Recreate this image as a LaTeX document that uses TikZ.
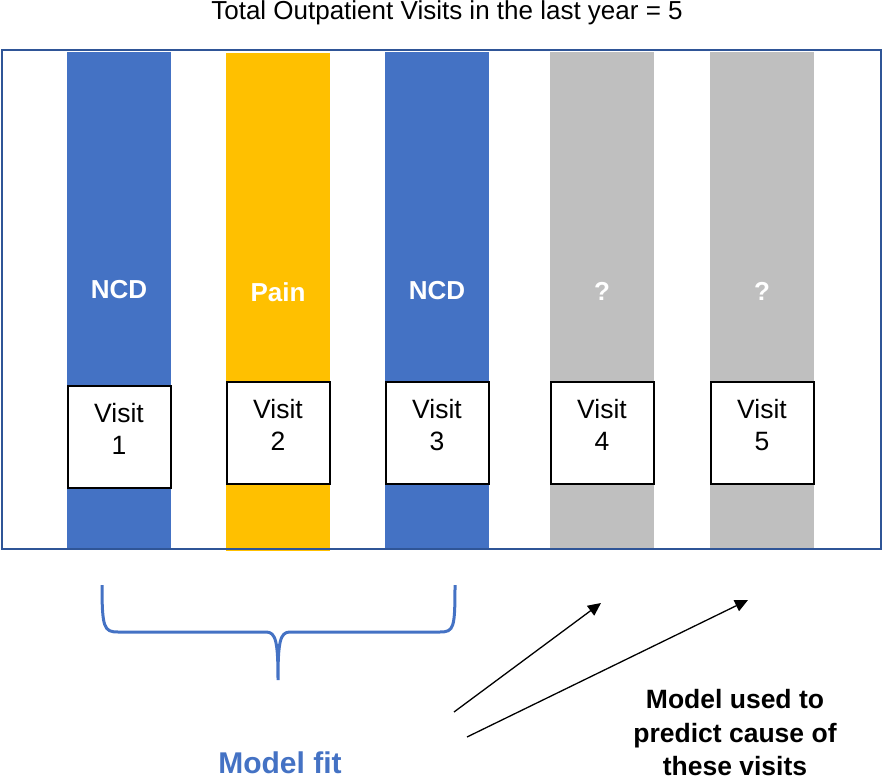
\documentclass[tikz,border=0pt]{standalone}
\usepackage{fontspec}
\setmainfont{Liberation Sans}
\usepackage{tikz}
\usetikzlibrary{arrows.meta,calc,positioning}
\definecolor{VisitBlue}{HTML}{4472C4}
\definecolor{VisitGold}{HTML}{FFC000}
\definecolor{VisitGrey}{HTML}{BFBFBF}
\definecolor{FrameBlue}{HTML}{2F5597}
\tikzset{
  >={Triangle[length=13pt,width=12pt]},
  bar/.style={minimum width=104pt,minimum height=498pt,inner sep=0pt,draw=none},
  bluebar/.style={bar,fill=VisitBlue},
  goldbar/.style={bar,fill=VisitGold},
  greybar/.style={bar,fill=VisitGrey},
  barlabel/.style={text=white,font=\fontsize{26}{30}\selectfont\bfseries},
  visitbox/.style={draw=black,line width=2pt,fill=white,minimum width=103pt,
    minimum height=102pt,inner sep=0pt},
  visittext/.style={align=center,font=\fontsize{26.5}{32}\selectfont},
  predictflow/.style={->,line width=1.3pt,draw=black},
  bracket/.style={draw=VisitBlue,line width=3pt}
}

\begin{document}
\begin{tikzpicture}[x=1pt,y=-1pt]
    \useasboundingbox (0,0) rectangle (883,783);
    \node[font=\fontsize{26}{30}\selectfont] (title) at (447,13) {Total Outpatient Visits in the last year = 5};
    % the five visits
    \node[bluebar] (bar1) at (119,301) {};
    \node[goldbar] (bar2) at (278,302) {};
    \node[bluebar] (bar3) at (437,301) {};
    \node[greybar] (bar4) at (602,301) {};
    \node[greybar] (bar5) at (762,301) {};
    \node[barlabel] (cause1) at (119,290) {NCD};
    \node[barlabel] (cause2) at (278,292) {Pain};
    \node[barlabel] (cause3) at (437,291) {NCD};
    \node[barlabel] (cause4) at (602,291) {?};
    \node[barlabel] (cause5) at (762,291) {?};
    \draw[FrameBlue,line width=2.5pt] (2,50) rectangle (881,549);
    \node[visitbox] (box1) at (119,436.5) {};
    \node[visitbox] (box2) at (278,433) {};
    \node[visitbox] (box3) at (437,433) {};
    \node[visitbox] (box4) at (602,433) {};
    \node[visitbox] (box5) at (762,433) {};
    \node[visittext] (visit1) at ([yshift=8pt]box1.center) {Visit\\1};
    \node[visittext] (visit2) at ([yshift=8pt]box2.center) {Visit\\2};
    \node[visittext] (visit3) at ([yshift=8pt]box3.center) {Visit\\3};
    \node[visittext] (visit4) at ([yshift=8pt]box4.center) {Visit\\4};
    \node[visittext] (visit5) at ([yshift=8pt]box5.center) {Visit\\5};
    % brace under the first three visits
    \draw[bracket] (102,585) .. controls (102,628) and (104,632) .. (118,632)
      -- (266,632) .. controls (276,632) and (278,642) .. (278,680)
      .. controls (278,642) and (280,632) .. (290,632)
      -- (440,632) .. controls (454,632) and (455,628) .. (455,585);
    \node[text=VisitBlue,font=\fontsize{30}{34}\selectfont\bfseries] (fit) at (280,763) {Model fit};
    % prediction arrows
    \coordinate (from4) at (454,712);
    \coordinate (to4) at (601,603);
    \coordinate (from5) at (467,737);
    \coordinate (to5) at (748,600);
    \draw[predictflow] (from4) -- (to4);
    \draw[predictflow] (from5) -- (to5);
    \node[align=center,font=\fontsize{26.5}{33.5}\selectfont\bfseries] (predict) at (735,733)
      {Model used to\\predict cause of\\these visits};
  \end{tikzpicture}
\end{document}
